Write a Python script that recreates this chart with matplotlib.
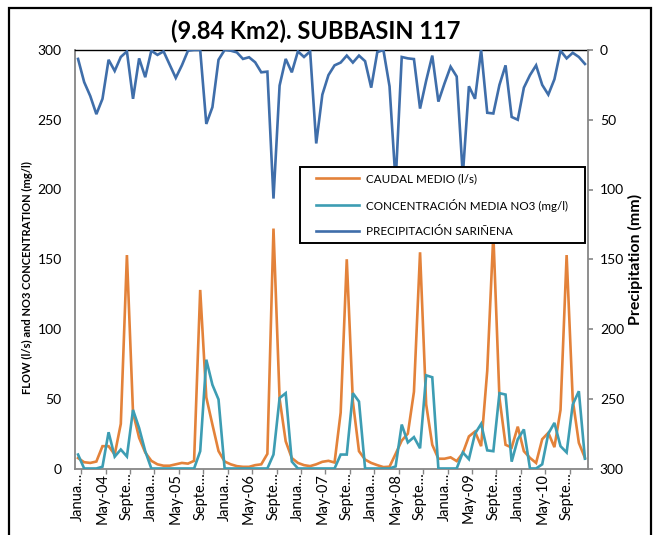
import matplotlib
matplotlib.use("Agg")
import matplotlib.pyplot as plt
from matplotlib.patches import Rectangle
import numpy as np

plt.rcParams['font.family'] = ['Lato', 'DejaVu Sans']

# ---- data (monthly, Jan 2004 - Dec 2010) ----
flow = [7.5, 4.5, 4, 5, 16, 16, 10, 32, 153, 40, 22, 11.5,
        5.5, 3, 2, 2, 3, 4, 3.5, 5.5, 128, 51, 31.5, 12.5,
        5, 3, 1.7, 1.2, 1.2, 2.4, 3, 10.5, 172, 50, 19.5, 7.5,
        4, 2.4, 1.7, 3, 4.8, 5.5, 4.3, 40, 150, 48, 12.4, 6.4,
        4, 2.4, 1, 1.3, 10.5, 20, 25, 55, 155, 46, 17, 7,
        7, 8, 5.3, 11, 23, 26.5, 16, 70, 168, 50.6, 17, 15,
        30, 12.4, 7.6, 4, 21, 25.6, 15.3, 42, 153, 49.4, 18.4, 7.6]

no3 = [10, 0, 0, 0, 1.3, 26, 8.5, 13.6, 8.6, 42, 29, 12.4,
       0, 0, 0, 0, 0, 0, 0, 0, 12.4, 78, 60, 49.5,
       0, 0, 0, 0, 0, 0, 0, 0, 10, 50.5, 54, 5,
       0, 0, 0, 0, 0, 0, 0, 10, 10, 54, 48, 0,
       0, 0, 0, 0, 1.5, 31.5, 18.7, 22.5, 14.5, 66.8, 65.4, 0,
       0, 0, 0, 11.5, 6.7, 25, 32, 13, 12.4, 54, 53, 4.9,
       21, 28, 0, 0, 3, 25, 32.7, 16, 11.5, 45.8, 55.4, 7]

precip = [6.4, 23, 33, 46, 35, 7, 15, 5, 1, 35, 6, 19.5,
          0.5, 3.5, 1, 10.5, 20, 11, 0.5, 0, 0, 53, 41, 7,
          0, 0.5, 1.7, 6.4, 5.2, 8.8, 16, 15.5, 106.5, 25.5, 6.4, 16,
          1, 5, 1, 67, 32, 18, 11, 9, 4, 9, 4, 8,
          27, 1.5, 0, 26, 95, 5, 6, 6.5, 42, 22, 4, 37,
          24, 12, 19, 90, 26, 35, 0, 45, 45.5, 25, 11, 48,
          50, 27, 18, 11, 25, 32, 21, 0.5, 6, 2, 5, 10]

tick_labels = ["Janua…", "May-04", "Septe…", "Janua…", "May-05", "Septe…",
               "Janua…", "May-06", "Septe…", "Janua…", "May-07", "Septe…",
               "Janua…", "May-08", "Septe…", "Janua…", "May-09", "Septe…",
               "Janua…", "May-10", "Septe…"]

series_names = ["CAUDAL MEDIO (l/s)", "CONCENTRACIÓN MEDIA NO3 (mg/l)",
                "PRECIPITACIÓN SARIÑENA"]

c_flow = '#E3823A'
c_no3 = '#3D9DB3'
c_prec = '#3F6EAA'
grey = '#868686'

W, H = 654, 535
fig = plt.figure(figsize=(W / 100, H / 100), dpi=100)
ax = fig.add_axes([75 / W, 1 - 468.5 / H, (588 - 75) / W, (468.5 - 50) / H])

x = np.arange(len(flow))
l1, = ax.plot(x, flow, color=c_flow, lw=1.9, zorder=3, solid_joinstyle='miter')
l2, = ax.plot(x, no3, color=c_no3, lw=1.9, zorder=4, solid_joinstyle='miter')
ax.set_xlim(-0.5, len(flow) - 0.5)
ax.set_ylim(0, 300)
ax.set_yticks(np.arange(0, 301, 50))
ax.tick_params(axis='y', length=0, pad=9.5, labelsize=10, labelcolor='#000000')

tick_pos = np.arange(0, len(flow), 4)
ax.set_xticks(tick_pos)
ax.set_xticklabels(tick_labels, rotation=90, fontsize=10.5, va='top', ha='center')
ax.set_xticks(tick_pos + 0.5, minor=True)
ax.tick_params(axis='x', which='major', length=0, pad=3)
ax.tick_params(axis='x', which='minor', length=3.5, color=grey, width=1)

ax.set_ylabel("FLOW (l/s) and NO3 CONCENTRATION (mg/l)", fontsize=8,
              fontweight='bold')
ax.yaxis.set_label_coords((33 - 75) / 513, (468.5 - 278) / 418.5)

for s in ['left', 'bottom']:
    ax.spines[s].set_color(grey)
    ax.spines[s].set_linewidth(1.3)
ax.spines['top'].set_color('#000000')
ax.spines['top'].set_linewidth(1.0)
ax.spines['right'].set_visible(False)

ax2 = ax.twinx()
l3, = ax2.plot(x, precip, color=c_prec, lw=1.9, zorder=3, solid_joinstyle='miter')
ax2.set_ylim(300, 0)
ax2.set_yticks(np.arange(0, 301, 50))
ax2.tick_params(axis='y', length=3.5, width=1.2, color=grey, pad=5, labelsize=10)
ax2.set_ylabel("Precipitation (mm)", fontsize=11.5, fontweight='bold', labelpad=3)
for s in ['left', 'bottom', 'top']:
    ax2.spines[s].set_visible(False)
ax2.spines['right'].set_color(grey)
ax2.spines['right'].set_linewidth(1.3)

# legend box (white, black edge) over the data
box = Rectangle((300 / W, 1 - 243 / H), (585 - 300) / W, (243 - 167) / H,
                transform=fig.transFigure, facecolor='white', edgecolor='#000000',
                linewidth=1.4, zorder=9, clip_on=False)
ax2.add_artist(box)
leg = ax2.legend([l1, l2, l3], series_names, loc='upper left',
                 bbox_to_anchor=(316 / W, 1 - 173 / H), bbox_transform=fig.transFigure,
                 fontsize=8.4, frameon=False, handlelength=3.7, handletextpad=0.55,
                 labelspacing=1.25, borderpad=0, borderaxespad=0)
leg.set_zorder(10)

fig.text(316 / W, 1 - 31 / H, "(9.84 Km2). SUBBASIN 117", ha='center', va='center',
         fontsize=17, fontweight='bold')

fig.patches.append(Rectangle((9 / W, -0.05), (651 - 9) / W, (H - 8) / H + 0.05,
                             transform=fig.transFigure, fill=False,
                             edgecolor='#000000', linewidth=1.6))

fig.savefig("out.png", dpi=100)
